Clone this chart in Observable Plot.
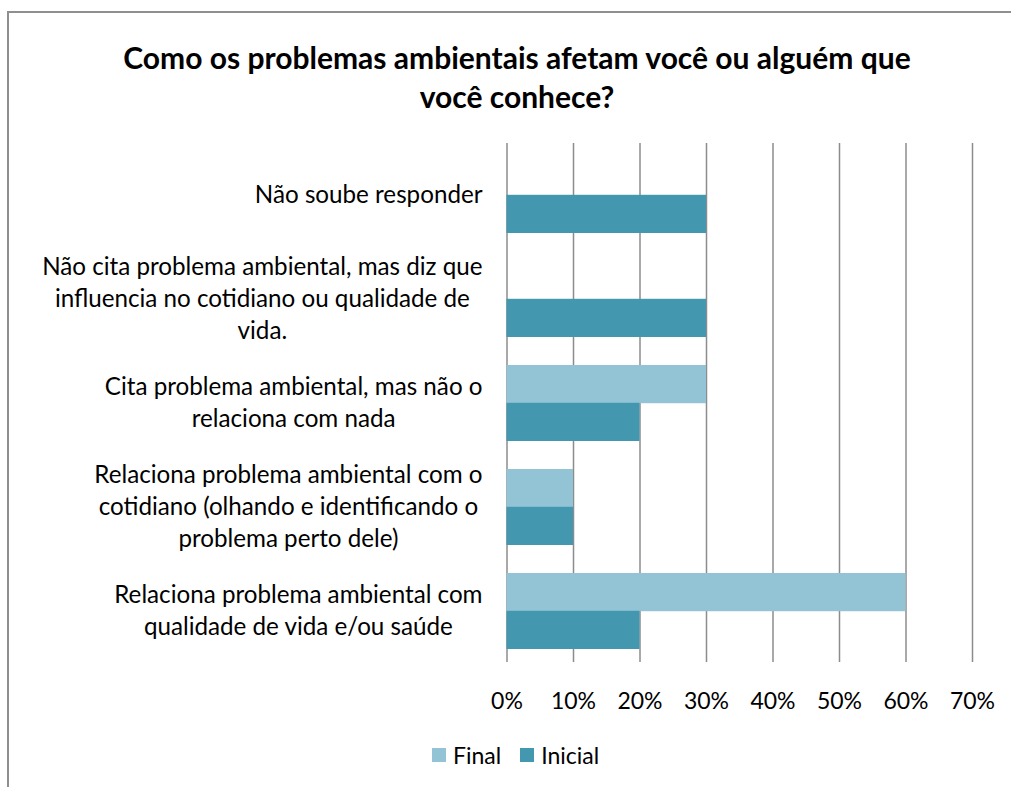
<!DOCTYPE html>
<html><head><meta charset="utf-8">
<script src="https://cdn.jsdelivr.net/npm/d3@7"></script>
<script src="https://cdn.jsdelivr.net/npm/@observablehq/plot@0.6"></script>
<style>
html,body{margin:0;padding:0;background:#fff;overflow:hidden;width:1011px;height:787px;}
#frame{position:absolute;left:7px;top:11px;width:1100px;height:900px;border-left:2px solid #8f8f8f;border-top:2px solid #8f8f8f;}
#title{position:absolute;left:0;width:1034px;top:38px;text-align:center;font-family:Lato,sans-serif;font-weight:700;font-size:30px;line-height:39px;color:#000;}
#chart{position:absolute;left:0;top:130px;}
#legend{position:absolute;left:432px;top:738px;}
.lg-swatch > svg{margin-right:7px !important;}
.lg-swatch{margin-right:19px !important;}
</style></head><body>
<div id="frame"></div>
<div id="title">Como os problemas ambientais afetam você ou alguém que<br>você conhece?</div>
<div id="chart"></div>
<div id="legend"></div>
<script>
const categories = ["nao_soube", "nao_cita", "cita", "cotidiano", "qualidade"];
const categoryLabels = [
  "Não soube responder",
  "Não cita problema ambiental, mas diz que\ninfluencia no cotidiano ou qualidade de\nvida.",
  "Cita problema ambiental, mas não o\nrelaciona com nada",
  "Relaciona problema ambiental com o\ncotidiano (olhando e identificando o\nproblema perto dele)",
  "Relaciona problema ambiental com\nqualidade de vida e/ou saúde"
];
const series = ["Final", "Inicial"];
const finalValues = [0, 0, 0.30, 0.10, 0.60];
const inicialValues = [0.30, 0.30, 0.20, 0.10, 0.20];
const xTicks = [0, 0.1, 0.2, 0.3, 0.4, 0.5, 0.6, 0.7];
const seriesColors = ["#93c4d5", "#4398b0"];

const FONT = "Lato";
const FS = 24.2;
const TFS = 23;
const half = 37.8;
const gap = 24.5;

const rows = categories.flatMap((c, i) => [
  {cat: c, series: "Final", value: finalValues[i]},
  {cat: c, series: "Inicial", value: inicialValues[i]}
]);

const ctx = document.createElement("canvas").getContext("2d");
ctx.font = `${FS}px ${FONT}`;
const labelMarks = categories.map((c, i) => {
  const w = d3.max(categoryLabels[i].split("\n"), s => ctx.measureText(s).width);
  return Plot.text([{cat: c, label: categoryLabels[i]}], {
    y: "cat", text: "label", frameAnchor: "left", textAnchor: "middle",
    lineAnchor: "middle", lineHeight: 32 / FS, dx: -(gap + w / 2), dy: -2.5, fill: "#000", fontSize: FS
  });
});

const fmt = d => Math.round(d * 100) + "%";

const chart = Plot.plot({
  width: 1011, height: 600,
  marginTop: 13, marginBottom: 68, marginLeft: 506.5, marginRight: 39,
  style: {fontFamily: FONT, fontSize: FS + "px", color: "#000", background: "transparent", overflow: "visible"},
  x: {domain: [0, 0.7], ticks: xTicks, tickFormat: fmt, label: null, axis: null},
  y: {domain: categories, paddingInner: 0.272, paddingOuter: 0.13, axis: null},
  color: {domain: series, range: seriesColors},
  marks: [
    Plot.ruleX(xTicks, {stroke: "#8c8c8c", strokeWidth: 1.5}),
    Plot.barX(rows.filter(d => d.series === "Final"), {x: "value", y: "cat", fill: "series", insetBottom: half}),
    Plot.barX(rows.filter(d => d.series === "Inicial"), {x: "value", y: "cat", fill: "series", insetTop: half}),
    ...labelMarks,
    Plot.axisX({ticks: xTicks, tickFormat: fmt, tickSize: 0, tickPadding: 30, fontSize: TFS, label: null, fill: "#000"})
  ]
});
document.getElementById("chart").appendChild(chart);

const legend = Plot.legend({
  color: {domain: series, range: seriesColors},
  swatchSize: 14, className: "lg",
  style: {fontFamily: FONT, fontSize: TFS + "px", color: "#000"}
});
document.getElementById("legend").appendChild(legend);
</script>
</body></html>
